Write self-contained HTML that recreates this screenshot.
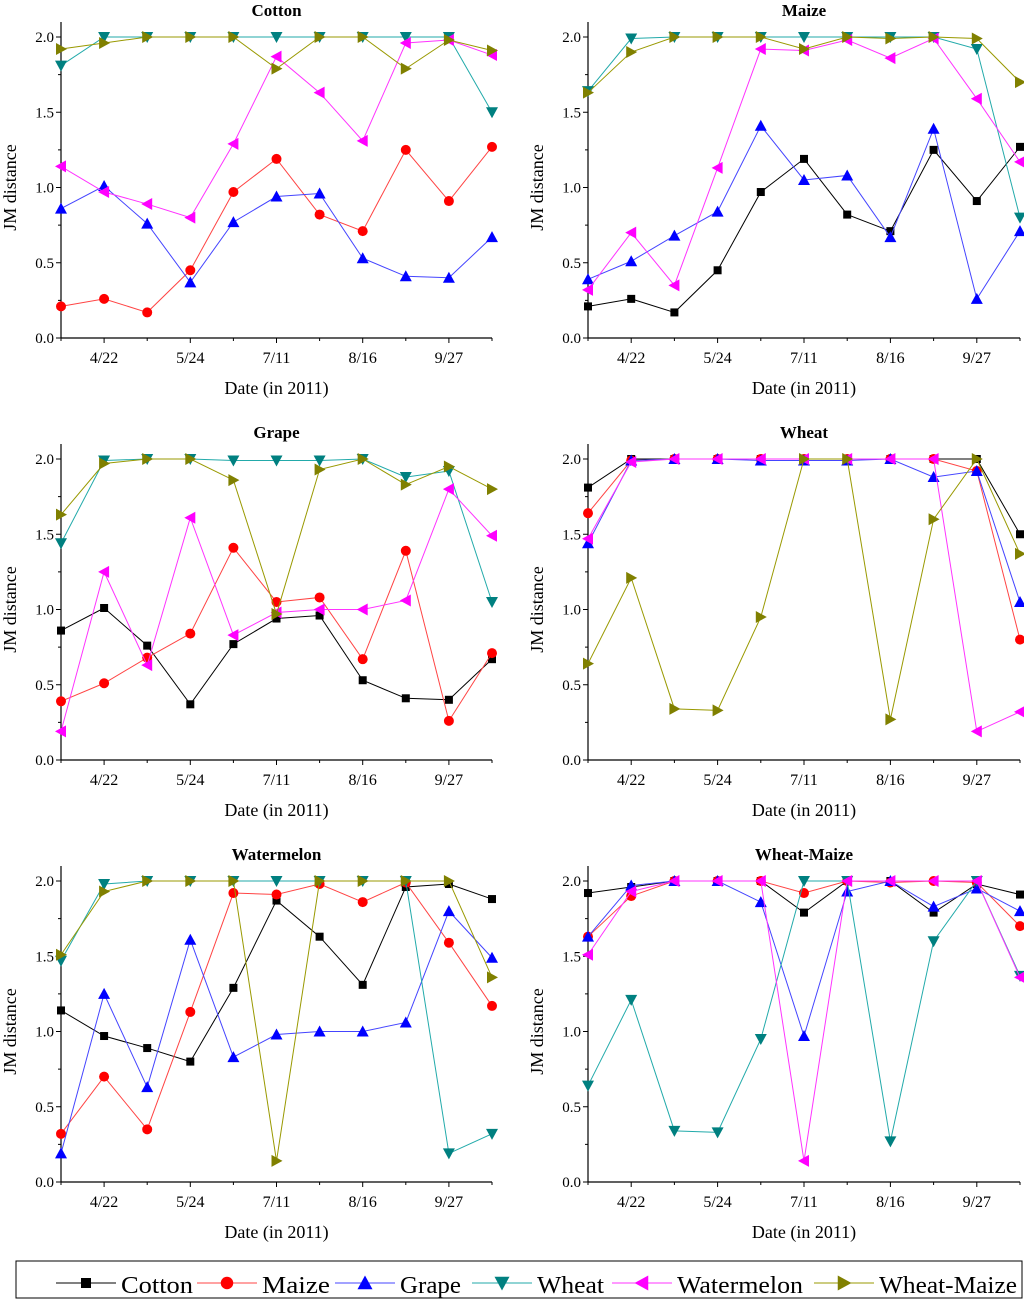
<!DOCTYPE html>
<html><head><meta charset="utf-8"><style>
body{margin:0;background:#fff;width:1024px;height:1299px;overflow:hidden}
svg{display:block;font-family:"Liberation Serif",serif}
</style></head><body>
<svg id="chart" width="1024" height="1299" viewBox="0 0 1024 1299"></svg>
<script>
const crops = ["Cotton","Maize","Grape","Wheat","Watermelon","Wheat-Maize"];
const dateLabels = ["","4/22","","5/24","","7/11","","8/16","","9/27",""];
const yTicks = [0.0,0.5,1.0,1.5,2.0];
const cottonMaize = [0.21,0.26,0.17,0.45,0.97,1.19,0.82,0.71,1.25,0.91,1.27];
const cottonGrape = [0.86,1.01,0.76,0.37,0.77,0.94,0.96,0.53,0.41,0.40,0.67];
const cottonWheat = [1.81,2.0,2.0,2.0,2.0,2.0,2.0,2.0,2.0,2.0,1.50];
const cottonWatermelon = [1.14,0.97,0.89,0.80,1.29,1.87,1.63,1.31,1.96,1.98,1.88];
const cottonWheatMaize = [1.92,1.96,2.0,2.0,2.0,1.79,2.0,2.0,1.79,1.98,1.91];
const maizeGrape = [0.39,0.51,0.68,0.84,1.41,1.05,1.08,0.67,1.39,0.26,0.71];
const maizeWheat = [1.64,1.99,2.0,2.0,2.0,2.0,2.0,2.0,2.0,1.92,0.80];
const maizeWatermelon = [0.32,0.70,0.35,1.13,1.92,1.91,1.98,1.86,1.99,1.59,1.17];
const maizeWheatMaize = [1.63,1.90,2.0,2.0,2.0,1.92,2.0,1.99,2.0,1.99,1.70];
const grapeWheat = [1.44,1.99,2.0,2.0,1.99,1.99,1.99,2.0,1.88,1.92,1.05];
const grapeWatermelon = [0.19,1.25,0.63,1.61,0.83,0.98,1.00,1.00,1.06,1.80,1.49];
const grapeWheatMaize = [1.63,1.97,2.0,2.0,1.86,0.97,1.93,2.0,1.83,1.95,1.80];
const wheatWatermelon = [1.47,1.98,2.0,2.0,2.0,2.0,2.0,2.0,2.0,0.19,0.32];
const wheatWheatMaize = [0.64,1.21,0.34,0.33,0.95,2.0,2.0,0.27,1.60,2.0,1.37];
const watermelonWheatMaize = [1.51,1.93,2.0,2.0,2.0,0.14,2.0,2.0,2.0,2.0,1.36];

const pairs = {
 "0-1":cottonMaize,"0-2":cottonGrape,"0-3":cottonWheat,"0-4":cottonWatermelon,"0-5":cottonWheatMaize,
 "1-2":maizeGrape,"1-3":maizeWheat,"1-4":maizeWatermelon,"1-5":maizeWheatMaize,
 "2-3":grapeWheat,"2-4":grapeWatermelon,"2-5":grapeWheatMaize,
 "3-4":wheatWatermelon,"3-5":wheatWheatMaize,"4-5":watermelonWheatMaize};
const colors=["#000","#f00","#00f","#008080","#f0f","#808000"];
const lineColors=["#000","#f44","#44f","#2aa","#f3f","#990"];
const NS="http://www.w3.org/2000/svg";
const svg=document.getElementById('chart');
function mk(tag,attrs,parent){const e=document.createElementNS(NS,tag);for(const k in attrs)e.setAttribute(k,attrs[k]);(parent||svg).appendChild(e);return e;}
function marker(g,k,x,y,s){
 s=s||1;const c=colors[k];let e;
 if(k===0)e=mk('rect',{x:x-4*s,y:y-4*s,width:8*s,height:8*s,fill:c},g);
 else if(k===1)e=mk('circle',{cx:x,cy:y,r:5*s,fill:c},g);
 else{let p;const a=6*s,b=5*s;
  if(k===2)p=[[x,y-a],[x+a,y+b],[x-a,y+b]];
  if(k===3)p=[[x-a,y-b],[x+a,y-b],[x,y+a]];
  if(k===4)p=[[x-a,y],[x+b,y-a],[x+b,y+a]];
  if(k===5)p=[[x+a,y],[x-b,y-a],[x-b,y+a]];
  e=mk('polygon',{points:p.map(q=>q.join(',')).join(' '),fill:c},g);}
 
 
}
const panelPos=[[61,492,37,338],[588,1020,37,338],[61,492,459,760],[588,1020,459,760],[61,492,881,1182],[588,1020,881,1182]];
panelPos.forEach((pp,pi)=>{
 const [x0,x1,y2,y0]=pp;
 const g=mk('g',{});
 
 
 const n=11;
 const xs=i=>x0+(x1-x0)*i/(n-1);
 const ys=v=>y0+(y2-y0)*v/2;
 const top=ys(2.1);
 const t=mk('text',{x:(x0+x1)/2,y:y2-21,'text-anchor':'middle','font-size':'17','font-weight':'bold'},g);t.textContent=crops[pi];
 
 mk('line',{x1:x0,y1:top,x2:x0,y2:y0,stroke:'#000','stroke-width':1.2},g);
 mk('line',{x1:x0,y1:y0,x2:x1,y2:y0,stroke:'#000','stroke-width':1.2},g);
 yTicks.forEach(v=>{const y=ys(v);mk('line',{x1:x0-5,y1:y,x2:x0,y2:y,stroke:'#000'},g);
  const tt=mk('text',{x:x0-7,y:y+5,'text-anchor':'end','font-size':'15'},g);tt.textContent=v.toFixed(1);
  
  if(v<2){mk('line',{x1:x0-3,y1:ys(v+0.25),x2:x0,y2:ys(v+0.25),stroke:'#000'},g);}});
 dateLabels.forEach((l,i)=>{const x=xs(i);mk('line',{x1:x,y1:y0,x2:x,y2:y0+(l?5:3),stroke:'#000'},g);
  if(l){const tt=mk('text',{x:x,y:y0+25,'text-anchor':'middle','font-size':'16'},g);tt.textContent=l;
  }});
 const xl=mk('text',{x:(x0+x1)/2,y:y0+56,'text-anchor':'middle','font-size':'18'},g);xl.textContent='Date (in 2011)';
 
 const yl=mk('text',{x:0,y:0,'text-anchor':'middle','font-size':'18',transform:`translate(${x0-45},${(y0+y2)/2}) rotate(-90)`},g);yl.textContent='JM distance';
 
 for(let k=0;k<6;k++){if(k===pi)continue;
  const vals=pairs[Math.min(k,pi)+'-'+Math.max(k,pi)];
  const sg=mk('g',{},g);
  
  
  mk('polyline',{points:vals.map((v,i)=>xs(i)+','+ys(v)).join(' '),fill:'none',stroke:lineColors[k],'stroke-width':1},sg);
  vals.forEach((v,i)=>marker(sg,k,xs(i),ys(v)));
 }
});
const lg=mk('g',{});

mk('rect',{x:16,y:1261,width:1006,height:37,fill:'none',stroke:'#000','stroke-width':1},lg);
const legLineX=[56,197,335,472,612,814];
const legTextW=[72,68,61,67,126,138];
crops.forEach((c,k)=>{
 const cx=legLineX[k];
 const eg=mk('g',{},lg);
 
 
 mk('line',{x1:cx,y1:1283,x2:cx+60,y2:1283,stroke:lineColors[k]},eg);
 marker(eg,k,cx+30,1283,1.25);
 const tt=mk('text',{x:cx+65,y:1293,'font-size':'24',textLength:legTextW[k],lengthAdjust:'spacingAndGlyphs'},eg);tt.textContent=c;
});
</script>
</body></html>
